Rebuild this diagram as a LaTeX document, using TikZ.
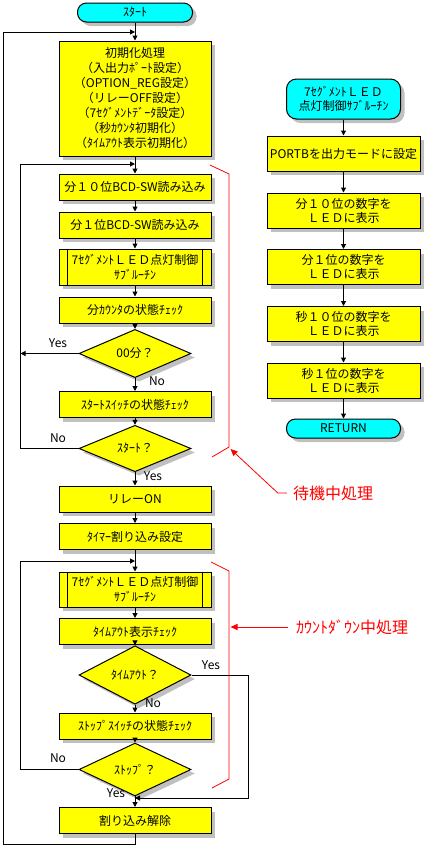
\documentclass[tikz,border=0pt]{standalone}
\usepackage{fontspec}
\setmainfont{Noto Sans CJK JP}
\usetikzlibrary{arrows.meta,shapes.geometric,shadows}
\definecolor{boxyellow}{RGB}{255,255,0}
\definecolor{termcyan}{RGB}{0,255,255}
\definecolor{shadowgrey}{RGB}{192,192,192}
\definecolor{notered}{RGB}{255,0,0}
\begin{document}
\begin{tikzpicture}[x=1pt,y=-1pt,
  every node/.style={font=\fontsize{12}{15}\selectfont, inner sep=0pt},
  shad/.style={drop shadow={shadow xshift=4pt,shadow yshift=-4pt,fill=shadowgrey,opacity=1}},
  procbox/.style={draw, line width=1pt, fill=boxyellow, shad, minimum width=152pt, minimum height=26pt, align=center},
  subbox/.style={procbox, minimum height=36pt},
  rbox/.style={procbox, minimum width=153pt, minimum height=35pt, font=\fontsize{12}{14}\selectfont},
  decision/.style={diamond, draw, line width=1pt, fill=boxyellow, shad, minimum width=112pt, minimum height=37pt},
  term/.style={draw, line width=1pt, fill=termcyan, shad, rounded corners=9pt, minimum width=115pt, minimum height=19pt, align=center},
  flow/.style={line width=1pt, -{Triangle[length=5pt,width=5pt]}},
  plain/.style={line width=1pt},
  redline/.style={draw=notered, line width=0.8pt},
  redarrow/.style={-{Triangle[length=7pt,width=6pt]}},
  redtext/.style={text=notered, font=\fontsize{16}{18}\selectfont},
  lbl/.style={font=\fontsize{12}{13}\selectfont}
]
\useasboundingbox (0,0) rectangle (426,847);
\fill[white] (0,0) rectangle (426,847);

% ---------- left column ----------
\node[term] (start) at (135,12.5) {ｽﾀｰﾄ};
\node[procbox, minimum height=115pt] (init) at (135,98.5)
  {初期化処理\\（入出力ﾎﾟｰﾄ設定）\\（OPTION\_REG設定）\\（リレーOFF設定）\\（7ｾｸﾞﾒﾝﾄﾃﾞｰﾀ設定）\\（秒ｶｳﾝﾀ初期化）\\（ﾀｲﾑｱｳﾄ表示初期化）};
\node[procbox] (b1) at (135,187) {分１０位BCD-SW読み込み};
\node[procbox] (b2) at (135,225) {分１位BCD-SW読み込み};
\node[subbox] (s1) at (135,267) {7ｾｸﾞﾒﾝﾄＬＥＤ点灯制御\\ｻﾌﾞﾙｰﾁﾝ};
\node[procbox] (b3) at (135,310) {分ｶｳﾝﾀの状態ﾁｪｯｸ};
\node[decision] (d1) at (135,353.5) {00分？};
\node[procbox] (b4) at (135,404.5) {ｽﾀｰﾄｽｲｯﾁの状態ﾁｪｯｸ};
\node[decision] (d2) at (135,448.5) {ｽﾀｰﾄ？};
\node[procbox] (b5) at (135,499) {リレーON};
\node[procbox] (b6) at (135,536.5) {ﾀｲﾏｰ割り込み設定};
\node[subbox, minimum height=35pt] (s2) at (135,589.5) {7ｾｸﾞﾒﾝﾄＬＥＤ点灯制御\\ｻﾌﾞﾙｰﾁﾝ};
\node[procbox] (b7) at (135,631.5) {ﾀｲﾑｱｳﾄ表示ﾁｪｯｸ};
\node[decision] (d3) at (135,675) {ﾀｲﾑｱｳﾄ？};
\node[procbox] (b8) at (135,726) {ｽﾄｯﾌﾟｽｲｯﾁの状態ﾁｪｯｸ};
\node[decision] (d4) at (135,769.5) {ｽﾄｯﾌﾟ？};
\node[procbox] (b9) at (135,820.5) {割り込み解除};

\foreach \n in {s1,s2} {
  \draw[plain] ([xshift=9pt]\n.north west) -- ([xshift=9pt]\n.south west);
  \draw[plain] ([xshift=-9pt]\n.north east) -- ([xshift=-9pt]\n.south east);
}

\coordinate (j0) at (135,32);
\coordinate (j1) at (135,164);
\coordinate (j2) at (135,561);
\coordinate (j3) at (135,798);
\coordinate (outer) at (3,844);

\draw[flow] (start) -- (init);
\draw[flow] (init) -- (b1);
\draw[flow] (b1) -- (b2);
\draw[flow] (b2) -- (s1);
\draw[flow] (s1) -- (b3);
\draw[flow] (b3) -- (d1);
\draw[flow] (d1) -- (b4);
\draw[flow] (b4) -- (d2);
\draw[flow] (d2) -- (b5);
\draw[flow] (b5) -- (b6);
\draw[flow] (b6) -- (s2);
\draw[flow] (s2) -- (b7);
\draw[flow] (b7) -- (d3);
\draw[flow] (d3) -- (b8);
\draw[flow] (b8) -- (d4);
\draw[flow] (d4) -- (b9);

\draw[flow] (d1.west) -- ++(-58,0);
\draw[flow] (d2.west) -- ++(-58,0) |- (j1);
\draw[flow] (d4.west) -- ++(-58,0) |- (j2);
\draw[flow] (d3.east) -- ++(57,0) |- (j3);
\draw[flow] (b9.south) |- (outer) |- (j0);

\node[lbl] (y1) at (58,343) {Yes};
\node[lbl] (n1) at (157,381) {No};
\node[lbl] (n2) at (58,438) {No};
\node[lbl] (y2) at (153,476) {Yes};
\node[lbl] (y3) at (211,665) {Yes};
\node[lbl] (n3) at (153,703) {No};
\node[lbl] (n4) at (58,758) {No};
\node[lbl] (y4) at (116,793) {Yes};

% ---------- right column ----------
\node[term, minimum width=114pt, minimum height=40pt, rounded corners=10pt, font=\fontsize{12}{14}\selectfont] (rt) at (343.5,99) {7ｾｸﾞﾒﾝﾄＬＥＤ\\点灯制御ｻﾌﾞﾙｰﾁﾝ};
\node[rbox] (r1) at (343.5,153.5) {PORTBを出力モードに設定};
\node[rbox] (r2) at (343.5,210.5) {分１０位の数字を\\ＬＥＤに表示};
\node[rbox] (r3) at (343.5,267) {分１位の数字を\\ＬＥＤに表示};
\node[rbox] (r4) at (343.5,324) {秒１０位の数字を\\ＬＥＤに表示};
\node[rbox] (r5) at (343.5,380.5) {秒１位の数字を\\ＬＥＤに表示};
\node[term, minimum width=114pt] (ret) at (343.5,428.5) {RETURN};

\draw[flow] (rt) -- (r1);
\draw[flow] (r1) -- (r2);
\draw[flow] (r2) -- (r3);
\draw[flow] (r3) -- (r4);
\draw[flow] (r4) -- (r5);
\draw[flow] (r5) -- (ret);

% ---------- red annotations ----------
\draw[redline] (210,165) -- (229,174) -- (229,447) -- (212,457);
\draw[redline] (211,562) -- (229,571) -- (229,779) -- (212,788);
\node[redtext] (wait) at (333,493) {待機中処理};
\node[redtext] (count) at (352,627) {ｶｳﾝﾄﾀﾞｳﾝ中処理};
\draw[redline, redarrow] ([xshift=-6pt]wait.west) -- ++(-9,0) -- (230.5,449);
\draw[redline, redarrow] ([xshift=-8pt]count.west) -- (230.5,627);
\end{tikzpicture}
\end{document}
